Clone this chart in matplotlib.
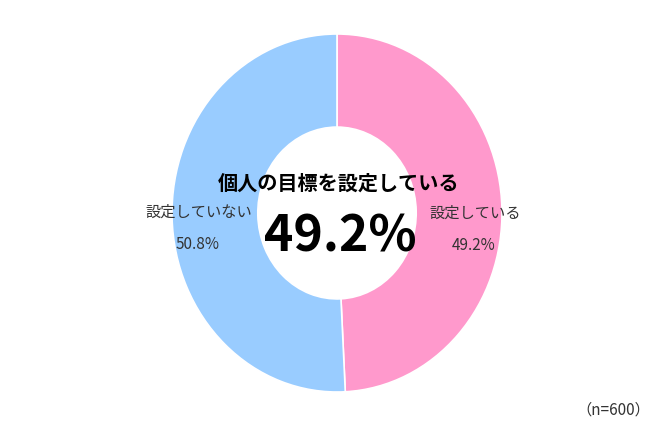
import matplotlib
matplotlib.use("Agg")
import matplotlib.pyplot as plt

plt.rcParams['font.family'] = ['Noto Sans CJK JP', 'DejaVu Sans']

# データ
labels = ["設定している", "設定していない"]
values = [49.2, 50.8]
colors = ["#FF99CC", "#99CCFF"]
title = "個人の目標を設定している"
note = "（n=600）"

W, H = 670, 426
fig = plt.figure(figsize=(W / 100, H / 100), dpi=100)
ax = fig.add_axes([0, 0, 1, 1])

# 円の中心と半径（ピクセル）
cx, cy = 337, 213
rx, ry = 165, 179

ax.pie(values, colors=colors, startangle=90, counterclock=False, radius=1,
       wedgeprops=dict(width=0.52, edgecolor="white", linewidth=1.2))
ax.set_aspect('auto')
ax.set_xlim(-cx / rx, (W - cx) / rx)
ax.set_ylim(-(H - cy) / ry, cy / ry)
ax.axis('off')


def fx(x):
    return x / W


def fy(y):
    return 1 - y / H


# 中央のテキスト
fig.text(fx(339), fy(183), title, ha='center', va='center',
         fontsize=14.5, fontweight='bold', color='black')
fig.text(fx(340), fy(237), f"{values[0]}%", ha='center', va='center',
         fontsize=36, fontweight='bold', color='black')

# ラベル
fig.text(fx(475), fy(213), labels[0], ha='center', va='center', fontsize=11, color='#333333')
fig.text(fx(474), fy(245), f"{values[0]}%", ha='center', va='center', fontsize=11, color='#333333')
fig.text(fx(199), fy(212), labels[1], ha='center', va='center', fontsize=11, color='#333333')
fig.text(fx(198), fy(244), f"{values[1]}%", ha='center', va='center', fontsize=11, color='#333333')

fig.text(fx(613), fy(410), note, ha='center', va='center', fontsize=11, color='#333333')

plt.savefig("out.png", dpi=100)
